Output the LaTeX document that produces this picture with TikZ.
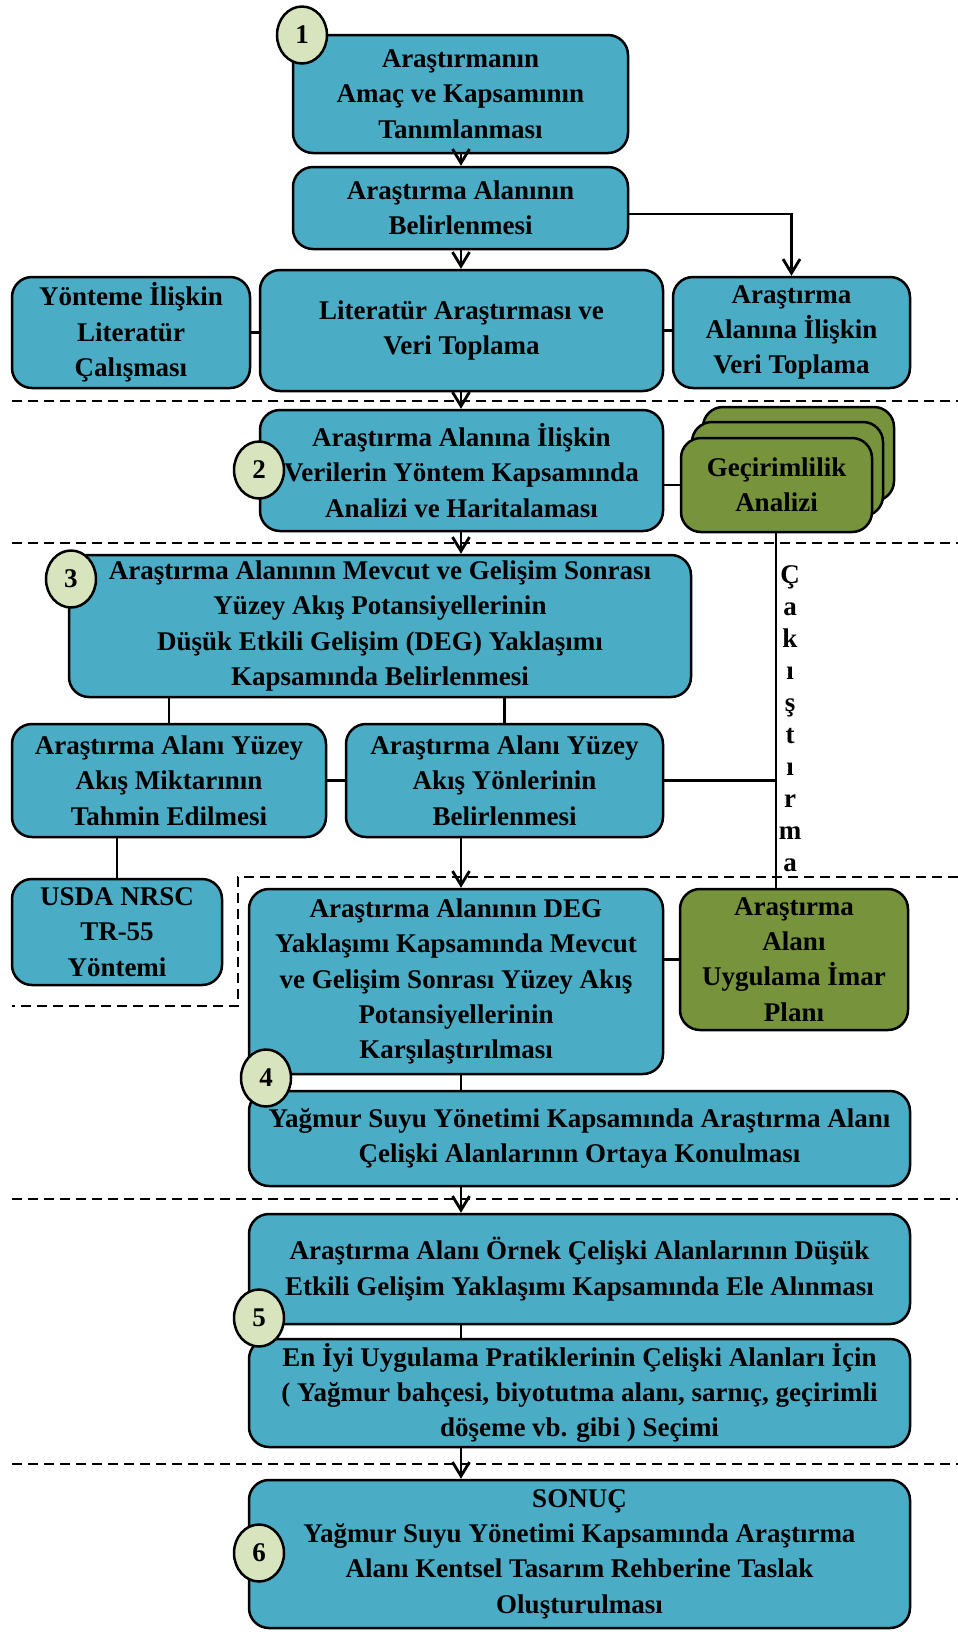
\documentclass[tikz,border=0pt]{standalone}
\usepackage{fontspec}
\setmainfont{Liberation Serif}
\usetikzlibrary{arrows.meta,shapes.geometric}
\definecolor{boxblue}{HTML}{4BACC6}
\definecolor{boxgreen}{HTML}{77933C}
\definecolor{stepfill}{HTML}{D7E4BD}

\tikzset{
  base/.style={draw=black, line width=1.25pt, rounded corners=10pt, inner sep=0pt,
    align=center, font=\fontsize{13.5}{17.65}\selectfont\bfseries},
  bluebox/.style={base, fill=boxblue},
  greenbox/.style={base, fill=boxgreen},
  stepmark/.style={ellipse, draw=black, line width=1.25pt, fill=stepfill, inner sep=0pt,
    minimum width=25pt, minimum height=28.5pt, font=\fontsize{13.5}{16}\selectfont\bfseries},
  link/.style={line width=1.4pt},
  flow/.style={link, -{Straight Barb[length=7pt,width=8.5pt]}},
  sepline/.style={line width=0.9pt, dash pattern=on 5pt off 3pt},
}

% box given by its corners (x1,y1)-(x2,y2) in pixel units
\newcommand\boxat[7]{%
  \node[#1, minimum width={(#5-#3)*0.5pt}, minimum height={(#6-#4)*0.5pt}]
    (#2) at ({(#3+#5)/2},{(#4+#6)/2}) {#7};}

\begin{document}
\begin{tikzpicture}[x=0.5pt, y=-0.5pt]
\fill[white] (0,0) rectangle (958,1635);
\useasboundingbox (0,0) rectangle (958,1635);

% phase separators
\draw[sepline] (12,401) -- (958,401);
\draw[sepline] (12,543) -- (958,543);
\draw[sepline] (958,877) -- (238,877) -- (238,1006) -- (12,1006);
\draw[sepline] (12,1199) -- (958,1199);
\draw[sepline] (12,1464) -- (958,1464);

% column positions of the main flow and the overlay link
\coordinate (colx) at (461,0);
\coordinate (cakx) at (776,0);

% boxes
\boxat{bluebox}{b1}{293}{35}{628}{153}{Araştırmanın\\Amaç ve Kapsamının\\Tanımlanması}
\boxat{bluebox}{b2}{293}{167}{628}{249}{Araştırma Alanının\\Belirlenmesi}
\boxat{bluebox}{yon1}{12}{277}{250}{388}{Yönteme İlişkin\\Literatür\\Çalışması}
\boxat{bluebox}{lit}{260}{270}{663}{391}{Literatür Araştırması ve\\Veri Toplama}
\boxat{bluebox}{r1}{673}{277}{910}{388}{Araştırma\\Alanına İlişkin\\Veri Toplama}
\boxat{bluebox}{a2}{260}{410}{663}{531}{Araştırma Alanına İlişkin\\Verilerin Yöntem Kapsamında\\Analizi ve Haritalaması}

\boxat{greenbox}{gec3}{703}{407}{894}{501}{}
\boxat{greenbox}{gec2}{692}{422}{883}{516}{}
\boxat{greenbox}{gec}{681}{438}{872}{532}{Geçirimlilik\\Analizi}

\boxat{bluebox}{b3}{69}{555}{691}{697}{Araştırma Alanının Mevcut ve Gelişim Sonrası\\Yüzey Akış Potansiyellerinin\\Düşük Etkili Gelişim (DEG) Yaklaşımı\\Kapsamında Belirlenmesi}
\boxat{bluebox}{mik}{12}{724}{326}{837}{Araştırma Alanı Yüzey\\Akış Miktarının\\Tahmin Edilmesi}
\boxat{bluebox}{yon2}{346}{724}{663}{837}{Araştırma Alanı Yüzey\\Akış Yönlerinin\\Belirlenmesi}
\boxat{bluebox}{usda}{12}{879}{222}{985}{USDA NRSC\\TR-55\\Yöntemi}
\boxat{bluebox}{b4}{249}{889}{663}{1074}{Araştırma Alanının DEG\\Yaklaşımı Kapsamında Mevcut\\ve Gelişim Sonrası Yüzey Akış\\Potansiyellerinin\\Karşılaştırılması}
\boxat{greenbox}{uyg}{680}{889}{908}{1030}{Araştırma\\Alanı\\Uygulama İmar\\Planı}
\boxat{bluebox}{by}{249}{1091}{910}{1186}{Yağmur Suyu Yönetimi Kapsamında Araştırma Alanı\\Çelişki Alanlarının Ortaya Konulması}
\boxat{bluebox}{b5}{249}{1214}{910}{1324}{Araştırma Alanı Örnek Çelişki Alanlarının Düşük\\Etkili Gelişim Yaklaşımı Kapsamında Ele Alınması}
\boxat{bluebox}{b6a}{249}{1339}{910}{1447}{En İyi Uygulama Pratiklerinin Çelişki Alanları İçin\\( Yağmur bahçesi, biyotutma alanı, sarnıç, geçirimli\\döşeme vb. gibi ) Seçimi}
\boxat{bluebox}{b6}{249}{1480}{910}{1628}{SONUÇ\\Yağmur Suyu Yönetimi Kapsamında Araştırma\\Alanı Kentsel Tasarım Rehberine Taslak\\Oluşturulması}

% connectors
\draw[flow] (b1.south -| colx) -- (b2.north -| colx);
\draw[flow] ([yshift=-3pt]b2.east) -| (r1.north);
\draw[flow] (b2.south -| colx) -- (lit.north -| colx);
\draw[link] (yon1.east) -- (lit.west |- yon1.east);
\draw[link] (lit.east) -- (r1.west |- lit.east);
\draw[flow] (lit.south -| colx) -- (a2.north -| colx);
\draw[link] (gec.west) -- (gec.west -| a2.east);
\draw[flow] (a2.south -| colx) -- (b3.north -| colx);
\draw[link] (b3.south -| mik.north) -- (mik.north);
\draw[link] (b3.south -| yon2.north) -- (yon2.north);
\draw[link] (mik.east) -- (yon2.west);
\draw[link] (mik.south -| usda.north) -- (usda.north);
\draw[link] (gec.south -| cakx) -- (uyg.north -| cakx);
\draw[link] (yon2.east) -- (yon2.east -| cakx);
\draw[flow] (yon2.south -| colx) -- (b4.north -| colx);
\draw[link] (uyg.west) -- (uyg.west -| b4.east);
\draw[link] (b4.south -| colx) -- (by.north -| colx);
\draw[flow] (by.south -| colx) -- (b5.north -| colx);
\draw[link] (b5.south -| colx) -- (b6a.north -| colx);
\draw[flow] (b6a.south -| colx) -- (b6.north -| colx);

% vertical label of the overlay link
\node[anchor=north, inner sep=0pt, align=center,
  font=\fontsize{13.5}{16}\selectfont\bfseries] (cak) at (790,565)
  {Ç\\a\\k\\ı\\ş\\t\\ı\\r\\m\\a};

% step markers
\node[stepmark] (s1) at (302,35) {1};
\node[stepmark] (s2) at (259,470) {2};
\node[stepmark] (s3) at (71,579) {3};
\node[stepmark] (s4) at (266,1078) {4};
\node[stepmark] (s5) at (259,1318) {5};
\node[stepmark] (s6) at (259,1553) {6};
\end{tikzpicture}
\end{document}
